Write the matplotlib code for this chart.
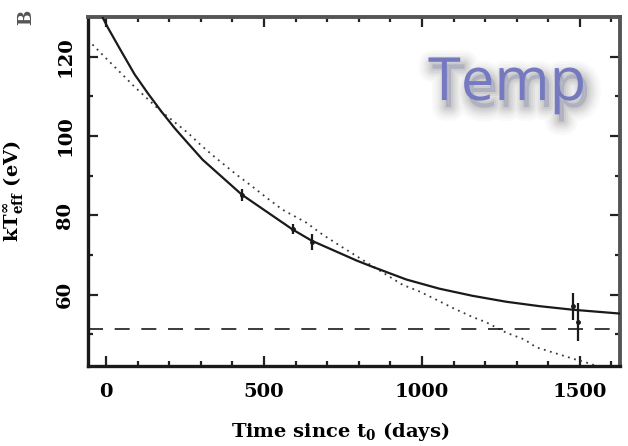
import matplotlib
matplotlib.use('Agg')
import matplotlib.pyplot as plt
import matplotlib.patheffects as pe

# cooling curve (solid), simple fit (dotted) and measured points
fit_t = [-15, -9.5, 6, 43, 90, 133, 175, 217, 259, 306, 430, 591, 651, 793,
         844, 951, 1055, 1160, 1267, 1371, 1476, 1630]
fit_kT = [131.0, 129.7, 127.3, 122.1, 115.6, 110.7, 106.2, 102.0, 98.2, 94.0,
          85.2, 76.4, 73.6, 68.6, 67.0, 63.8, 61.5, 59.7, 58.2, 57.1, 56.2,
          55.2]

alt_t = [-57, 0, 63, 85, 170, 259, 300, 344, 414, 464, 509, 559, 635, 686,
         761, 938, 992, 1046, 1096, 1156, 1204, 1267, 1324, 1362, 1403,
         1488, 1520, 1560]
alt_kT = [124.2, 119.6, 114.6, 112.8, 106.5, 100.8, 97.7, 94.7, 90.2, 87.2,
          84.4, 81.4, 78.1, 75.1, 71.3, 62.5, 60.8, 58.7, 56.7, 54.5, 53.0,
          50.4, 48.7, 46.7, 45.7, 43.6, 42.9, 41.8]

obs_t = [430, 591, 651, 1478, 1495]
obs_kT = [85.2, 76.5, 73.3, 57.1, 53.1]
obs_err = [1.5, 1.2, 2.0, 3.4, 4.9]

floor_kT = 51.4

plt.rcParams['font.family'] = 'DejaVu Serif'
plt.rcParams['font.weight'] = 'bold'
plt.rcParams['axes.labelweight'] = 'bold'
plt.rcParams['mathtext.fontset'] = 'dejavuserif'
plt.rcParams['mathtext.default'] = 'bf'

fig = plt.figure(figsize=(6.28, 4.46), dpi=100)
ax = fig.add_axes([88 / 628, 1 - 366 / 446, 532 / 628, 349 / 446])

ax.plot(fit_t, fit_kT, color='#1a1a1a', lw=1.6, zorder=3)
ax.plot(alt_t, alt_kT, color='#3a3a3a', lw=1.3, ls=(0, (1, 2.5)), zorder=2)
ax.axhline(floor_kT, color='#1a1a1a', lw=1.2, ls=(0, (9, 7)), zorder=2)
ax.errorbar(obs_t, obs_kT, yerr=obs_err, fmt='.', ms=5, color='#1a1a1a',
            ecolor='#1a1a1a', elinewidth=1.6, capsize=0, zorder=4)

ax.set_xlim(-57, 1627)
ax.set_ylim(42, 130)
ax.set_xticks([0, 500, 1000, 1500])
ax.set_xticks(range(0, 1700, 100), minor=True)
ax.set_yticks([60, 80, 100, 120])
ax.set_yticks(range(50, 131, 10), minor=True)

ax.tick_params(which='both', direction='in', top=True, right=True,
               width=1.6, color='#222222', labelsize=14)
ax.tick_params(which='major', length=7)
ax.tick_params(which='minor', length=3.5)
ax.tick_params(axis='x', pad=12)
ax.tick_params(axis='y', pad=10)
for lab in ax.get_yticklabels():
    lab.set_rotation(90)
    lab.set_va('center')

for side in ['left', 'bottom']:
    ax.spines[side].set_linewidth(2.4)
    ax.spines[side].set_color('#1a1a1a')
for side in ['top', 'right']:
    ax.spines[side].set_linewidth(2.8)
    ax.spines[side].set_color('#555555')

ax.set_xlabel(r'Time since t$_0$ (days)', fontsize=14)
ax.xaxis.set_label_coords(0.474, -0.155)
ax.set_ylabel(r'kT$^{\infty}_{eff}$ (eV)', fontsize=14)
ax.yaxis.set_label_coords(-0.118, 0.5)

# label with a soft, blurred drop shadow
shadow = [pe.Stroke(linewidth=w, foreground='#555555', alpha=a, offset=(3, -5))
          for w, a in [(20, 0.03), (16, 0.04), (12, 0.05), (9, 0.06),
                       (6, 0.07), (3, 0.08)]]
ax.text(0.639, 0.762, 'Temp', transform=ax.transAxes, fontsize=43,
        family='Open Sans', weight='normal', color='#7479c0',
        va='baseline', ha='left', zorder=5,
        path_effects=shadow + [pe.Normal()])

fig.text(26 / 628, 1 - 17 / 446, 'B', rotation=90, fontsize=13,
         color='#555555', ha='center', va='center')

fig.savefig('out.png', dpi=100)
